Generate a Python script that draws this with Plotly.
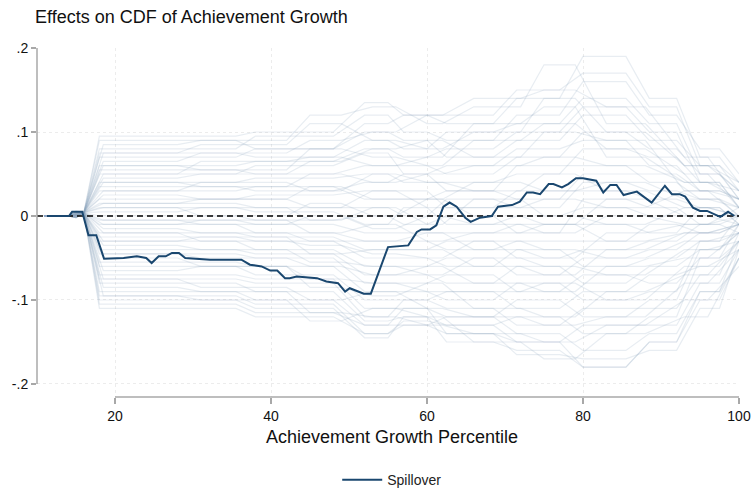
import plotly.graph_objects as go

# Spillover effect on the CDF of achievement growth, by growth percentile
pct = [11.3, 14.1, 14.5, 15.8, 16.6, 17.6, 18.6, 21.1, 22.8, 24.0, 24.7, 25.6, 26.5, 27.3,
       28.2, 29.0, 32.2, 36.2, 37.3, 38.8, 39.9, 40.8, 41.8, 42.4, 43.3, 45.9, 47.1, 48.6,
       49.5, 50.1, 51.9, 52.8, 55.0, 57.6, 58.7, 59.3, 60.4, 61.2, 62.1, 62.9, 63.8, 64.9,
       65.6, 66.8, 68.3, 69.1, 70.9, 71.9, 72.8, 73.6, 74.5, 75.6, 76.2, 77.3, 78.1, 79.1,
       80.0, 81.7, 82.6, 83.5, 84.3, 85.2, 86.9, 88.8, 90.5, 91.4, 92.4, 93.1, 94.1, 95.0,
       95.9, 97.6, 98.6, 99.4]
spillover = [0.0, 0.0, 0.005, 0.005, -0.023, -0.023, -0.051, -0.050, -0.048, -0.050, -0.056,
             -0.048, -0.048, -0.044, -0.044, -0.050, -0.052, -0.052, -0.058, -0.060, -0.065,
             -0.065, -0.074, -0.074, -0.072, -0.074, -0.078, -0.080, -0.090, -0.086, -0.0925,
             -0.0925, -0.037, -0.035, -0.019, -0.016, -0.016, -0.011, 0.011, 0.016, 0.011,
             -0.002, -0.007, -0.002, 0.0, 0.011, 0.013, 0.017, 0.028, 0.028, 0.026, 0.038,
             0.038, 0.034, 0.038, 0.045, 0.045, 0.042, 0.028, 0.037, 0.037, 0.025, 0.029,
             0.016, 0.036, 0.026, 0.026, 0.023, 0.010, 0.006, 0.006, -0.001, 0.005, 0.0]

# Placebo draws: shared lead-in, then one level per percentile window, then the end value
lead_pct = [11, 14, 15, 16]
lead_level = [0.0, 0.0, None, 0.004]
end_pct = 100

# first batch of draws
windows_a_start = [18, 38, 52, 57, 62.5, 71.5, 80, 88.5, 95]
windows_a_end = [35.5, 48, 55, 60, 68.5, 77, 85.5, 92, 97.5]
# each row: [value at pct 15, nine window levels, value at pct 100]
draws_a = [
    [0.005, 0.095, 0.100, 0.135, 0.120, 0.110, 0.140, 0.190, 0.140, 0.070, 0.040],
    [0.004, 0.090, 0.080, 0.110, 0.120, 0.120, 0.150, 0.170, 0.130, 0.060, 0.030],
    [0.006, 0.080, 0.095, 0.120, 0.100, 0.090, 0.120, 0.160, 0.120, 0.080, 0.050],
    [0.003, 0.075, 0.070, 0.090, 0.080, 0.100, 0.110, 0.140, 0.110, 0.050, 0.020],
    [0.005, 0.070, 0.080, 0.100, 0.090, 0.070, 0.090, 0.120, 0.090, 0.060, 0.040],
    [0.002, 0.060, 0.065, 0.080, 0.070, 0.080, 0.100, 0.130, 0.100, 0.040, 0.010],
    [0.004, 0.055, 0.050, 0.060, 0.060, 0.050, 0.070, 0.100, 0.080, 0.050, 0.030],
    [0.001, 0.050, 0.060, 0.075, 0.050, 0.060, 0.080, 0.090, 0.060, 0.030, 0.020],
    [0.003, 0.040, 0.045, 0.050, 0.040, 0.040, 0.050, 0.080, 0.070, 0.040, 0.010],
    [0.005, 0.035, 0.030, 0.040, 0.050, 0.030, 0.060, 0.060, 0.040, 0.020, 0.000],
    [0.002, 0.030, 0.035, 0.020, 0.020, 0.030, 0.020, 0.050, 0.050, 0.030, 0.020],
    [0.000, 0.020, 0.025, 0.030, 0.030, 0.010, 0.030, 0.030, 0.020, 0.010, -0.010],
    [0.004, 0.015, 0.010, 0.010, 0.000, 0.020, 0.010, 0.040, 0.030, 0.020, 0.010],
    [0.001, 0.010, 0.005, -0.010, 0.010, -0.010, 0.000, 0.010, 0.000, 0.000, 0.000],
    [0.003, 0.000, -0.005, 0.000, -0.010, 0.000, -0.020, 0.020, 0.010, -0.010, 0.000],
    [-0.001, -0.005, -0.010, -0.020, -0.020, -0.020, -0.010, -0.010, -0.020, 0.010, -0.010],
    [0.002, -0.010, -0.020, -0.030, -0.030, -0.040, -0.030, -0.030, -0.010, -0.020, -0.010],
    [0.000, -0.020, -0.025, -0.040, -0.040, -0.030, -0.050, -0.040, -0.030, -0.010, -0.020],
    [-0.002, -0.025, -0.030, -0.050, -0.050, -0.060, -0.040, -0.060, -0.050, -0.030, 0.000],
    [0.001, -0.030, -0.040, -0.060, -0.060, -0.050, -0.070, -0.050, -0.040, -0.020, -0.010],
    [0.000, -0.040, -0.045, -0.070, -0.070, -0.080, -0.060, -0.080, -0.060, -0.040, -0.020],
    [-0.001, -0.045, -0.050, -0.080, -0.080, -0.070, -0.090, -0.070, -0.080, -0.050, -0.010],
    [0.002, -0.055, -0.060, -0.090, -0.090, -0.100, -0.080, -0.100, -0.090, -0.030, -0.020],
    [-0.002, -0.060, -0.070, -0.100, -0.100, -0.090, -0.110, -0.090, -0.070, -0.060, -0.030],
    [0.000, -0.070, -0.075, -0.110, -0.110, -0.120, -0.100, -0.120, -0.100, -0.040, -0.010],
    [-0.001, -0.075, -0.080, -0.120, -0.100, -0.110, -0.130, -0.110, -0.110, -0.070, -0.020],
    [0.001, -0.080, -0.090, -0.125, -0.120, -0.130, -0.120, -0.140, -0.120, -0.050, -0.030],
    [-0.002, -0.090, -0.100, -0.130, -0.110, -0.140, -0.150, -0.130, -0.130, -0.080, -0.040],
    [0.000, -0.095, -0.105, -0.140, -0.130, -0.120, -0.140, -0.160, -0.140, -0.090, -0.030],
    [-0.001, -0.100, -0.110, -0.145, -0.120, -0.150, -0.160, -0.180, -0.150, -0.100, -0.050],
    [0.003, -0.105, -0.115, -0.130, -0.130, -0.140, -0.165, -0.170, -0.160, -0.110, -0.040],
    [-0.002, -0.110, -0.120, -0.140, -0.125, -0.130, -0.150, -0.180, -0.150, -0.090, -0.050],
]

# second batch of draws, switching levels in different windows
windows_b_start = [18.5, 31, 45, 53, 60, 66, 75, 83, 93]
windows_b_end = [28, 42, 49, 56, 62, 72, 79, 88, 96]
draws_b = [
    [0.004, 0.085, 0.090, 0.120, 0.130, 0.110, 0.130, 0.180, 0.110, 0.060, 0.030],
    [0.002, 0.065, 0.075, 0.090, 0.100, 0.120, 0.140, 0.150, 0.130, 0.070, 0.020],
    [0.005, 0.060, 0.055, 0.080, 0.070, 0.060, 0.090, 0.110, 0.080, 0.050, 0.010],
    [0.001, 0.045, 0.050, 0.065, 0.080, 0.090, 0.070, 0.100, 0.090, 0.030, 0.020],
    [0.003, 0.040, 0.035, 0.050, 0.040, 0.050, 0.060, 0.070, 0.060, 0.040, 0.030],
    [0.000, 0.030, 0.040, 0.030, 0.050, 0.040, 0.030, 0.050, 0.030, 0.010, 0.000],
    [0.004, 0.025, 0.020, 0.035, 0.020, 0.020, 0.040, 0.030, 0.040, 0.020, 0.010],
    [0.002, 0.015, 0.020, 0.010, 0.030, 0.010, 0.010, 0.020, 0.010, 0.030, 0.000],
    [0.001, 0.010, 0.000, 0.015, 0.000, 0.020, 0.000, -0.010, 0.020, 0.000, -0.010],
    [0.003, 0.005, 0.010, -0.005, 0.010, -0.010, 0.020, 0.000, -0.010, 0.010, 0.000],
    [-0.001, -0.005, -0.010, 0.000, -0.015, 0.000, -0.010, -0.020, 0.000, -0.010, 0.010],
    [0.000, -0.010, -0.005, -0.020, -0.010, -0.030, -0.020, -0.010, -0.030, -0.020, -0.010],
    [0.002, -0.015, -0.020, -0.030, -0.030, -0.020, -0.040, -0.050, -0.020, -0.010, 0.000],
    [-0.002, -0.020, -0.030, -0.035, -0.045, -0.050, -0.030, -0.040, -0.050, -0.030, -0.020],
    [0.001, -0.030, -0.025, -0.045, -0.040, -0.040, -0.060, -0.070, -0.040, -0.020, -0.010],
    [0.000, -0.035, -0.040, -0.055, -0.060, -0.070, -0.050, -0.060, -0.070, -0.040, -0.030],
    [-0.001, -0.045, -0.050, -0.060, -0.070, -0.060, -0.080, -0.090, -0.060, -0.050, -0.020],
    [0.002, -0.050, -0.060, -0.075, -0.080, -0.090, -0.090, -0.080, -0.100, -0.060, -0.040],
    [-0.002, -0.065, -0.060, -0.085, -0.095, -0.080, -0.110, -0.120, -0.090, -0.070, -0.030],
    [0.000, -0.075, -0.085, -0.100, -0.090, -0.110, -0.120, -0.130, -0.120, -0.080, -0.040],
    [0.001, -0.085, -0.090, -0.115, -0.120, -0.130, -0.140, -0.150, -0.130, -0.100, -0.060],
    [-0.001, -0.095, -0.100, -0.125, -0.110, -0.120, -0.150, -0.170, -0.140, -0.120, -0.050],
    [0.003, 0.075, 0.085, 0.110, 0.090, 0.080, 0.100, 0.140, 0.100, 0.060, 0.040],
    [0.001, 0.050, 0.065, 0.070, 0.060, 0.070, 0.110, 0.130, 0.070, 0.040, 0.020],
]

y_ticks = [-0.2, -0.1, 0, 0.1, 0.2]
y_tick_text = ["-.2", "-.1", "0", ".1", ".2"]
x_ticks = [20, 40, 60, 80, 100]
x_tick_text = ["20", "40", "60", "80", "100"]

FONT = "Liberation Sans, Arial, sans-serif"
NAVY = "#1a476f"
AXIS_GRAY = "#a8a8a8"
DRAW_COLOR = "rgba(140,165,192,0.2)"


def draw_path(row, starts, ends):
    xs = list(lead_pct)
    ys = [row[0] if v is None else v for v in lead_level]
    for k, (a, b) in enumerate(zip(starts, ends)):
        xs += [a, b]
        ys += [row[1 + k], row[1 + k]]
    xs.append(end_pct)
    ys.append(row[-1])
    return xs, ys


fig = go.Figure()

for rows, starts, ends in ((draws_a, windows_a_start, windows_a_end),
                           (draws_b, windows_b_start, windows_b_end)):
    for row in rows:
        xs, ys = draw_path(row, starts, ends)
        fig.add_trace(go.Scatter(
            x=xs, y=ys, mode="lines",
            line=dict(color=DRAW_COLOR, width=1.2),
            hoverinfo="skip", showlegend=False,
        ))

# reference line at zero
fig.add_trace(go.Scatter(
    x=[10, 100], y=[0, 0], mode="lines",
    line=dict(color="black", width=1.4, dash="6px,4px"),
    hoverinfo="skip", showlegend=False,
))

fig.add_trace(go.Scatter(
    x=pct, y=spillover, mode="lines", name="Spillover",
    line=dict(color=NAVY, width=2),
))

# axis lines spanning the labelled range only
fig.add_shape(type="line", xref="paper", yref="y", x0=0, x1=0, y0=-0.2, y1=0.2,
              line=dict(color=AXIS_GRAY, width=1.5))
fig.add_shape(type="line", xref="x", yref="paper", x0=20, x1=100, y0=0, y1=0,
              line=dict(color=AXIS_GRAY, width=1.5))

fig.update_layout(
    width=754, height=489,
    margin=dict(l=37, r=15, t=48, b=92),
    paper_bgcolor="white", plot_bgcolor="white",
    font=dict(family=FONT, size=14, color="#111111"),
    showlegend=True,
    legend=dict(
        orientation="h", x=0.506, xanchor="center",
        yref="container", y=0.018, yanchor="middle",
        font=dict(size=14, color="#222222"),
        bgcolor="rgba(0,0,0,0)", itemwidth=40,
    ),
    xaxis=dict(
        range=[10, 100], tickvals=x_ticks, ticktext=x_tick_text,
        showline=False, zeroline=False, automargin=False,
        showgrid=True, gridcolor="#ececec", griddash="dot", gridwidth=1,
        ticks="outside", ticklen=6, tickcolor=AXIS_GRAY, tickwidth=1.5,
        tickfont=dict(size=14, color="#111111"),
    ),
    yaxis=dict(
        range=[-0.2155, 0.2], tickvals=y_ticks, ticktext=y_tick_text,
        showline=False, zeroline=False, automargin=False,
        showgrid=True, gridcolor="#ececec", griddash="dot", gridwidth=1,
        ticks="outside", ticklen=5, tickcolor=AXIS_GRAY, tickwidth=1.5,
        tickfont=dict(size=14, color="#111111"),
    ),
    annotations=[
        dict(text="Effects on CDF of Achievement Growth", xref="paper", yref="paper",
             x=-0.006, y=1, xanchor="left", yanchor="middle", yshift=31,
             showarrow=False, font=dict(size=18, color="#111111")),
        dict(text="Achievement Growth Percentile", xref="paper", yref="paper",
             x=0.5, y=0, xanchor="center", yanchor="middle", yshift=-40, xshift=4,
             showarrow=False, font=dict(size=18, color="#111111")),
    ],
)

fig.write_html("out.html")
